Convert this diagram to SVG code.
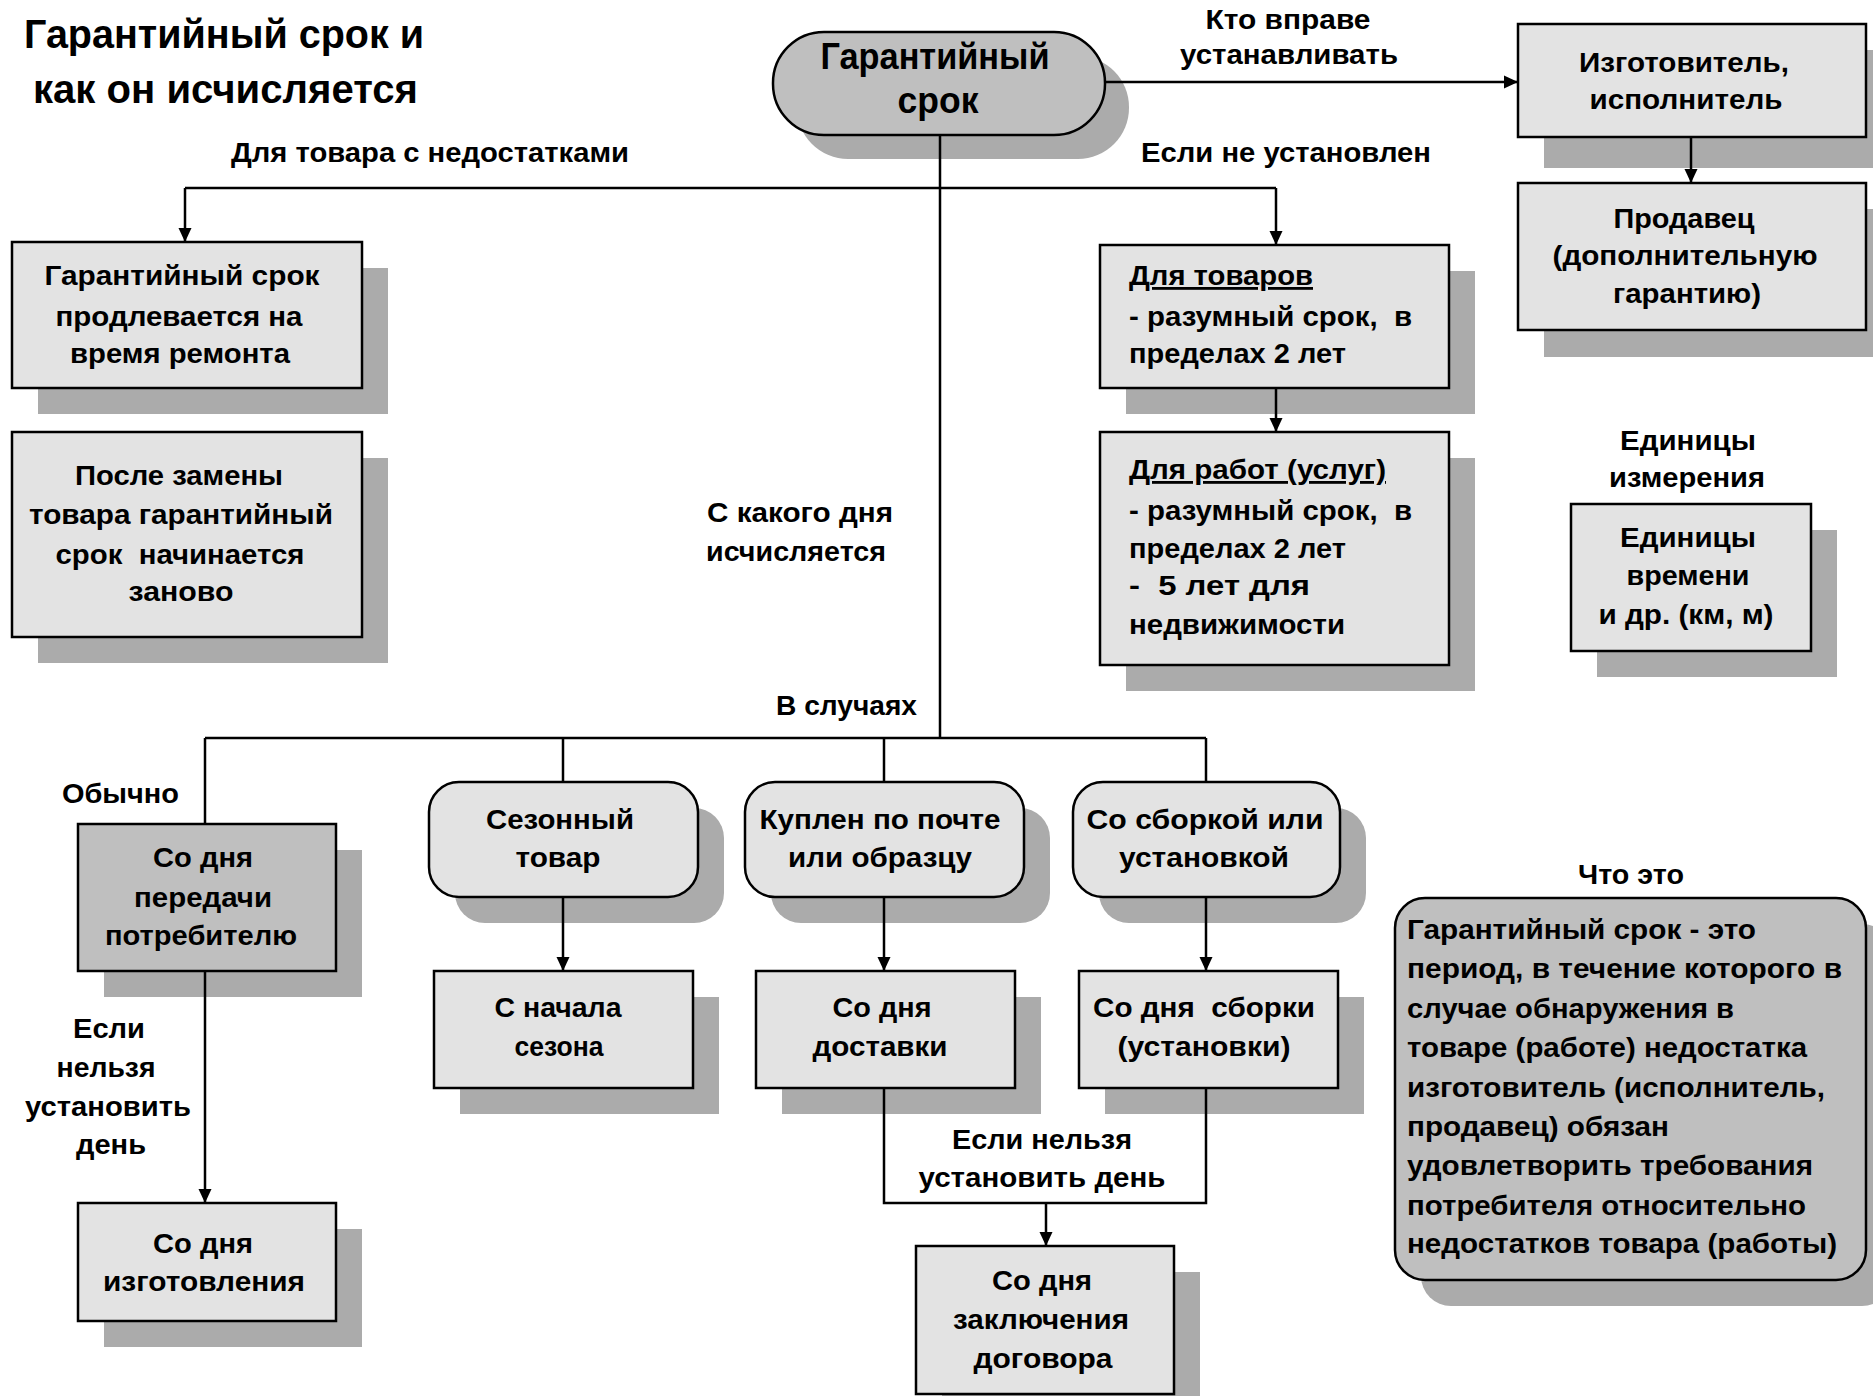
<svg xmlns="http://www.w3.org/2000/svg" width="1873" height="1396" viewBox="0 0 1873 1396">
<defs>
<style>
.box{fill:#e3e3e3;stroke:#000;stroke-width:2.5}
.dark{fill:#bfbfbf;stroke:#000;stroke-width:2.5}
.sh{fill:#ababab}
.t{font-family:"Liberation Sans",Arial,sans-serif;font-weight:bold;font-size:28px;fill:#000}
.c{text-anchor:middle}
.conn{stroke:#000;stroke-width:2.5;fill:none}
</style>
<marker id="ar" markerUnits="userSpaceOnUse" markerWidth="16" markerHeight="16" refX="14" refY="8" orient="auto">
<path d="M0,1.5 L14,8 L0,14.5 z" fill="#000"/>
</marker>
</defs>
<rect width="1873" height="1396" fill="#fff"/>

<g id="title">
<text class="t" x="24" y="48" style="font-size:40px" textLength="400" lengthAdjust="spacingAndGlyphs">Гарантийный срок и</text>
<text class="t" x="33" y="103" style="font-size:40px" textLength="385" lengthAdjust="spacingAndGlyphs">как он исчисляется</text>
</g>

<g id="labels">
<text class="t c" x="1288" y="29" textLength="165" lengthAdjust="spacingAndGlyphs">Кто вправе</text>
<text class="t c" x="1289" y="64" textLength="218" lengthAdjust="spacingAndGlyphs">устанавливать</text>
<text class="t c" x="430" y="162" textLength="398" lengthAdjust="spacingAndGlyphs">Для товара с недостатками</text>
<text class="t c" x="1286" y="162" textLength="290" lengthAdjust="spacingAndGlyphs">Если не установлен</text>
<text class="t c" x="1688" y="450" textLength="136" lengthAdjust="spacingAndGlyphs">Единицы</text>
<text class="t c" x="1687" y="487" textLength="156" lengthAdjust="spacingAndGlyphs">измерения</text>
<text class="t" x="707" y="522" textLength="186" lengthAdjust="spacingAndGlyphs">С какого дня</text>
<text class="t" x="706" y="561" textLength="180" lengthAdjust="spacingAndGlyphs">исчисляется</text>
<text class="t" x="776" y="715" textLength="141" lengthAdjust="spacingAndGlyphs">В случаях</text>
<text class="t" x="62" y="803" textLength="117" lengthAdjust="spacingAndGlyphs">Обычно</text>
<text class="t c" x="109" y="1038" textLength="72" lengthAdjust="spacingAndGlyphs">Если</text>
<text class="t c" x="106" y="1077" textLength="99" lengthAdjust="spacingAndGlyphs">нельзя</text>
<text class="t c" x="108" y="1116" textLength="166" lengthAdjust="spacingAndGlyphs">установить</text>
<text class="t c" x="111" y="1154" textLength="70" lengthAdjust="spacingAndGlyphs">день</text>
<text class="t c" x="1042" y="1149" textLength="180" lengthAdjust="spacingAndGlyphs">Если нельзя</text>
<text class="t c" x="1042" y="1187" textLength="247" lengthAdjust="spacingAndGlyphs">установить день</text>
<text class="t c" x="1631" y="884" textLength="106" lengthAdjust="spacingAndGlyphs">Что это</text>
</g>

<g id="n-main">
<rect class="sh" x="797" y="56" width="332" height="103" rx="51"/>
<rect class="dark" x="773" y="32" width="332" height="103" rx="51"/>
<text class="t c" x="935" y="69" style="font-size:36px" textLength="229" lengthAdjust="spacingAndGlyphs">Гарантийный</text>
<text class="t c" x="938" y="113" style="font-size:36px" textLength="81" lengthAdjust="spacingAndGlyphs">срок</text>
</g>

<g id="n-maker">
<rect class="sh" x="1544" y="50" width="348" height="118"/>
<rect class="box" x="1518" y="24" width="348" height="113"/>
<text class="t c" x="1684" y="72" textLength="210" lengthAdjust="spacingAndGlyphs">Изготовитель,</text>
<text class="t c" x="1686" y="109" textLength="193" lengthAdjust="spacingAndGlyphs">исполнитель</text>
</g>

<g id="n-seller">
<rect class="sh" x="1544" y="209" width="348" height="148"/>
<rect class="box" x="1518" y="183" width="348" height="147"/>
<text class="t c" x="1684" y="228" textLength="141" lengthAdjust="spacingAndGlyphs">Продавец</text>
<text class="t c" x="1685" y="265" textLength="265" lengthAdjust="spacingAndGlyphs">(дополнительную</text>
<text class="t c" x="1687" y="303" textLength="148" lengthAdjust="spacingAndGlyphs">гарантию)</text>
</g>

<g id="n-repair">
<rect class="sh" x="38" y="268" width="350" height="146"/>
<rect class="box" x="12" y="242" width="350" height="146"/>
<text class="t c" x="182" y="285" textLength="275" lengthAdjust="spacingAndGlyphs">Гарантийный срок</text>
<text class="t c" x="179" y="326" textLength="247" lengthAdjust="spacingAndGlyphs">продлевается на</text>
<text class="t c" x="180" y="363" textLength="220" lengthAdjust="spacingAndGlyphs">время ремонта</text>
</g>

<g id="n-replace">
<rect class="sh" x="38" y="458" width="350" height="205"/>
<rect class="box" x="12" y="432" width="350" height="205"/>
<text class="t c" x="179" y="485" textLength="208" lengthAdjust="spacingAndGlyphs">После замены</text>
<text class="t c" x="181" y="524" textLength="304" lengthAdjust="spacingAndGlyphs">товара гарантийный</text>
<text class="t c" x="180" y="564" textLength="249" lengthAdjust="spacingAndGlyphs" xml:space="preserve">срок  начинается</text>
<text class="t c" x="181" y="601" textLength="105" lengthAdjust="spacingAndGlyphs">заново</text>
</g>

<g id="n-goods">
<rect class="sh" x="1126" y="271" width="349" height="143"/>
<rect class="box" x="1100" y="245" width="349" height="143"/>
<text class="t" x="1129" y="285" text-decoration="underline" textLength="184" lengthAdjust="spacingAndGlyphs">Для товаров</text>
<text class="t" x="1129" y="326" textLength="283" lengthAdjust="spacingAndGlyphs" xml:space="preserve">- разумный срок,  в</text>
<text class="t" x="1129" y="363" textLength="217" lengthAdjust="spacingAndGlyphs">пределах 2 лет</text>
</g>

<g id="n-works">
<rect class="sh" x="1126" y="458" width="349" height="233"/>
<rect class="box" x="1100" y="432" width="349" height="233"/>
<text class="t" x="1129" y="479" text-decoration="underline" textLength="257" lengthAdjust="spacingAndGlyphs">Для работ (услуг)</text>
<text class="t" x="1129" y="520" textLength="283" lengthAdjust="spacingAndGlyphs" xml:space="preserve">- разумный срок,  в</text>
<text class="t" x="1129" y="558" textLength="217" lengthAdjust="spacingAndGlyphs">пределах 2 лет</text>
<text class="t" x="1129" y="595" textLength="181" lengthAdjust="spacingAndGlyphs" xml:space="preserve">-  5 лет для</text>
<text class="t" x="1129" y="634" textLength="216" lengthAdjust="spacingAndGlyphs">недвижимости</text>
</g>

<g id="n-units">
<rect class="sh" x="1597" y="530" width="240" height="147"/>
<rect class="box" x="1571" y="504" width="240" height="147"/>
<text class="t c" x="1688" y="547" textLength="136" lengthAdjust="spacingAndGlyphs">Единицы</text>
<text class="t c" x="1688" y="585" textLength="123" lengthAdjust="spacingAndGlyphs">времени</text>
<text class="t c" x="1686" y="624" textLength="175" lengthAdjust="spacingAndGlyphs">и др. (км, м)</text>
</g>

<g id="n-transfer">
<rect class="sh" x="104" y="850" width="258" height="147"/>
<rect class="dark" x="78" y="824" width="258" height="147"/>
<text class="t c" x="203" y="867" textLength="100" lengthAdjust="spacingAndGlyphs">Со дня</text>
<text class="t c" x="203" y="907" textLength="138" lengthAdjust="spacingAndGlyphs">передачи</text>
<text class="t c" x="201" y="945" textLength="192" lengthAdjust="spacingAndGlyphs">потребителю</text>
</g>

<g id="n-seasonal">
<rect class="sh" x="455" y="808" width="269" height="115" rx="30"/>
<rect class="box" x="429" y="782" width="269" height="115" rx="30"/>
<text class="t c" x="560" y="829" textLength="148" lengthAdjust="spacingAndGlyphs">Сезонный</text>
<text class="t c" x="558" y="867" textLength="85" lengthAdjust="spacingAndGlyphs">товар</text>
</g>

<g id="n-mail">
<rect class="sh" x="771" y="808" width="279" height="115" rx="30"/>
<rect class="box" x="745" y="782" width="279" height="115" rx="30"/>
<text class="t c" x="880" y="829" textLength="241" lengthAdjust="spacingAndGlyphs">Куплен по почте</text>
<text class="t c" x="880" y="867" textLength="184" lengthAdjust="spacingAndGlyphs">или образцу</text>
</g>

<g id="n-assembly">
<rect class="sh" x="1099" y="808" width="267" height="115" rx="30"/>
<rect class="box" x="1073" y="782" width="267" height="115" rx="30"/>
<text class="t c" x="1205" y="829" textLength="237" lengthAdjust="spacingAndGlyphs">Со сборкой или</text>
<text class="t c" x="1204" y="867" textLength="170" lengthAdjust="spacingAndGlyphs">установкой</text>
</g>

<g id="n-season-start">
<rect class="sh" x="460" y="997" width="259" height="117"/>
<rect class="box" x="434" y="971" width="259" height="117"/>
<text class="t c" x="558" y="1017" textLength="127" lengthAdjust="spacingAndGlyphs">С начала</text>
<text class="t c" x="559" y="1056" textLength="89" lengthAdjust="spacingAndGlyphs">сезона</text>
</g>

<g id="n-delivery">
<rect class="sh" x="782" y="997" width="259" height="117"/>
<rect class="box" x="756" y="971" width="259" height="117"/>
<text class="t c" x="882" y="1017" textLength="99" lengthAdjust="spacingAndGlyphs">Со дня</text>
<text class="t c" x="880" y="1056" textLength="135" lengthAdjust="spacingAndGlyphs">доставки</text>
</g>

<g id="n-assembly-day">
<rect class="sh" x="1105" y="997" width="259" height="117"/>
<rect class="box" x="1079" y="971" width="259" height="117"/>
<text class="t c" x="1204" y="1017" textLength="222" lengthAdjust="spacingAndGlyphs" xml:space="preserve">Со дня  сборки</text>
<text class="t c" x="1204" y="1056" textLength="173" lengthAdjust="spacingAndGlyphs">(установки)</text>
</g>

<g id="n-contract">
<rect class="sh" x="942" y="1272" width="258" height="148"/>
<rect class="box" x="916" y="1246" width="258" height="148"/>
<text class="t c" x="1042" y="1290" textLength="100" lengthAdjust="spacingAndGlyphs">Со дня</text>
<text class="t c" x="1041" y="1329" textLength="176" lengthAdjust="spacingAndGlyphs">заключения</text>
<text class="t c" x="1043" y="1368" textLength="139" lengthAdjust="spacingAndGlyphs">договора</text>
</g>

<g id="n-manufacture">
<rect class="sh" x="104" y="1229" width="258" height="118"/>
<rect class="box" x="78" y="1203" width="258" height="118"/>
<text class="t c" x="203" y="1253" textLength="100" lengthAdjust="spacingAndGlyphs">Со дня</text>
<text class="t c" x="204" y="1291" textLength="202" lengthAdjust="spacingAndGlyphs">изготовления</text>
</g>

<g id="n-definition">
<rect class="sh" x="1421" y="924" width="471" height="382" rx="30"/>
<rect class="dark" x="1395" y="898" width="471" height="382" rx="30"/>
<text class="t" x="1407" y="939" textLength="349" lengthAdjust="spacingAndGlyphs">Гарантийный срок - это</text>
<text class="t" x="1407" y="978" textLength="435" lengthAdjust="spacingAndGlyphs">период, в течение которого в</text>
<text class="t" x="1407" y="1018" textLength="327" lengthAdjust="spacingAndGlyphs">случае обнаружения в</text>
<text class="t" x="1407" y="1057" textLength="400" lengthAdjust="spacingAndGlyphs">товаре (работе) недостатка</text>
<text class="t" x="1407" y="1097" textLength="418" lengthAdjust="spacingAndGlyphs">изготовитель (исполнитель,</text>
<text class="t" x="1407" y="1136" textLength="262" lengthAdjust="spacingAndGlyphs">продавец) обязан</text>
<text class="t" x="1407" y="1175" textLength="406" lengthAdjust="spacingAndGlyphs">удовлетворить требования</text>
<text class="t" x="1407" y="1215" textLength="399" lengthAdjust="spacingAndGlyphs">потребителя относительно</text>
<text class="t" x="1407" y="1253" textLength="430" lengthAdjust="spacingAndGlyphs">недостатков товара (работы)</text>
</g>

<g id="connectors">
<path class="conn" d="M1105,82 H1518" marker-end="url(#ar)"/>
<path class="conn" d="M1691,137 V183" marker-end="url(#ar)"/>
<path class="conn" d="M940,135 V738"/>
<path class="conn" d="M185,188 H1276"/>
<path class="conn" d="M185,188 V242" marker-end="url(#ar)"/>
<path class="conn" d="M1276,188 V245" marker-end="url(#ar)"/>
<path class="conn" d="M1276,388 V432" marker-end="url(#ar)"/>
<path class="conn" d="M205,738 H1206"/>
<path class="conn" d="M205,738 V824"/>
<path class="conn" d="M563,738 V782"/>
<path class="conn" d="M884,738 V782"/>
<path class="conn" d="M1206,738 V782"/>
<path class="conn" d="M563,897 V971" marker-end="url(#ar)"/>
<path class="conn" d="M884,897 V971" marker-end="url(#ar)"/>
<path class="conn" d="M1206,897 V971" marker-end="url(#ar)"/>
<path class="conn" d="M884,1088 V1203 H1206 V1088"/>
<path class="conn" d="M1046,1203 V1246" marker-end="url(#ar)"/>
<path class="conn" d="M205,971 V1203" marker-end="url(#ar)"/>
</g>
</svg>
